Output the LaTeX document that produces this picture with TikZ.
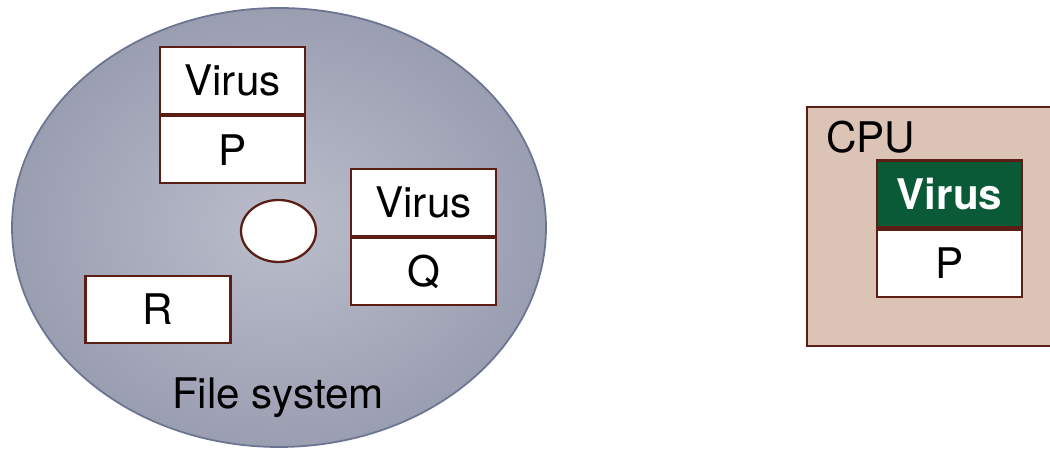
\documentclass[tikz,border=0pt]{standalone}
\usepackage{fontspec}
\setmainfont{TeX Gyre Heros}
\usetikzlibrary{positioning,shapes}
\definecolor{boxline}{HTML}{5A1E14}
\definecolor{diskin}{HTML}{BBBDCB}
\definecolor{diskout}{HTML}{9A9EB1}
\definecolor{diskline}{HTML}{6B7592}
\definecolor{cpufill}{HTML}{DBC3B5}
\definecolor{virusgreen}{HTML}{0B5A37}

\begin{document}
\begin{tikzpicture}[font=\fontsize{24}{28}\selectfont,
                    filebox/.style={draw=boxline,line width=1.3pt,fill=white,
                                    minimum width=2.9cm,minimum height=1.34cm,
                                    inner sep=0pt},
                    virustop/.style={filebox,fill=virusgreen,text=white,
                                     font=\fontsize{24}{28}\selectfont\bfseries}]

        \clip (0,0) rectangle (21,8.98);
        \useasboundingbox (0,0) rectangle (21,8.98);

        % file system disk
        \node[ellipse,draw=diskline,line width=1pt,inner color=diskin,
              outer color=diskout,minimum width=10.68cm,minimum height=8.78cm]
              (disk) at (5.58,4.43) {};
        \node (fslabel) at (5.56,1.02) {File system};

        \node[filebox] (vp) at (4.65,7.37) {Virus};
        \node[filebox] (p) [below=0pt of vp] {P};

        \node[filebox] (vq) at (8.47,4.93) {Virus};
        \node[filebox] (q) [below=0pt of vq] {Q};

        \node[filebox] (r) at (3.16,2.79) {R};

        \node[ellipse,draw=boxline,line width=1.3pt,fill=white,
              minimum width=1.5cm,minimum height=1.24cm] (hole) at (5.57,4.36) {};

        % cpu
        \node[draw=boxline,line width=1.3pt,fill=cpufill,anchor=south west,
              minimum width=5.2cm,minimum height=4.78cm] (cpu) at (16.12,2.04) {};
        \node[anchor=west,inner sep=0pt] (cpulabel) at (16.52,6.24) {CPU};

        \node[virustop] (vc) at (18.99,5.10) {Virus};
        \node[filebox] (pc) [below=0pt of vc] {P};

      \end{tikzpicture}
\end{document}
